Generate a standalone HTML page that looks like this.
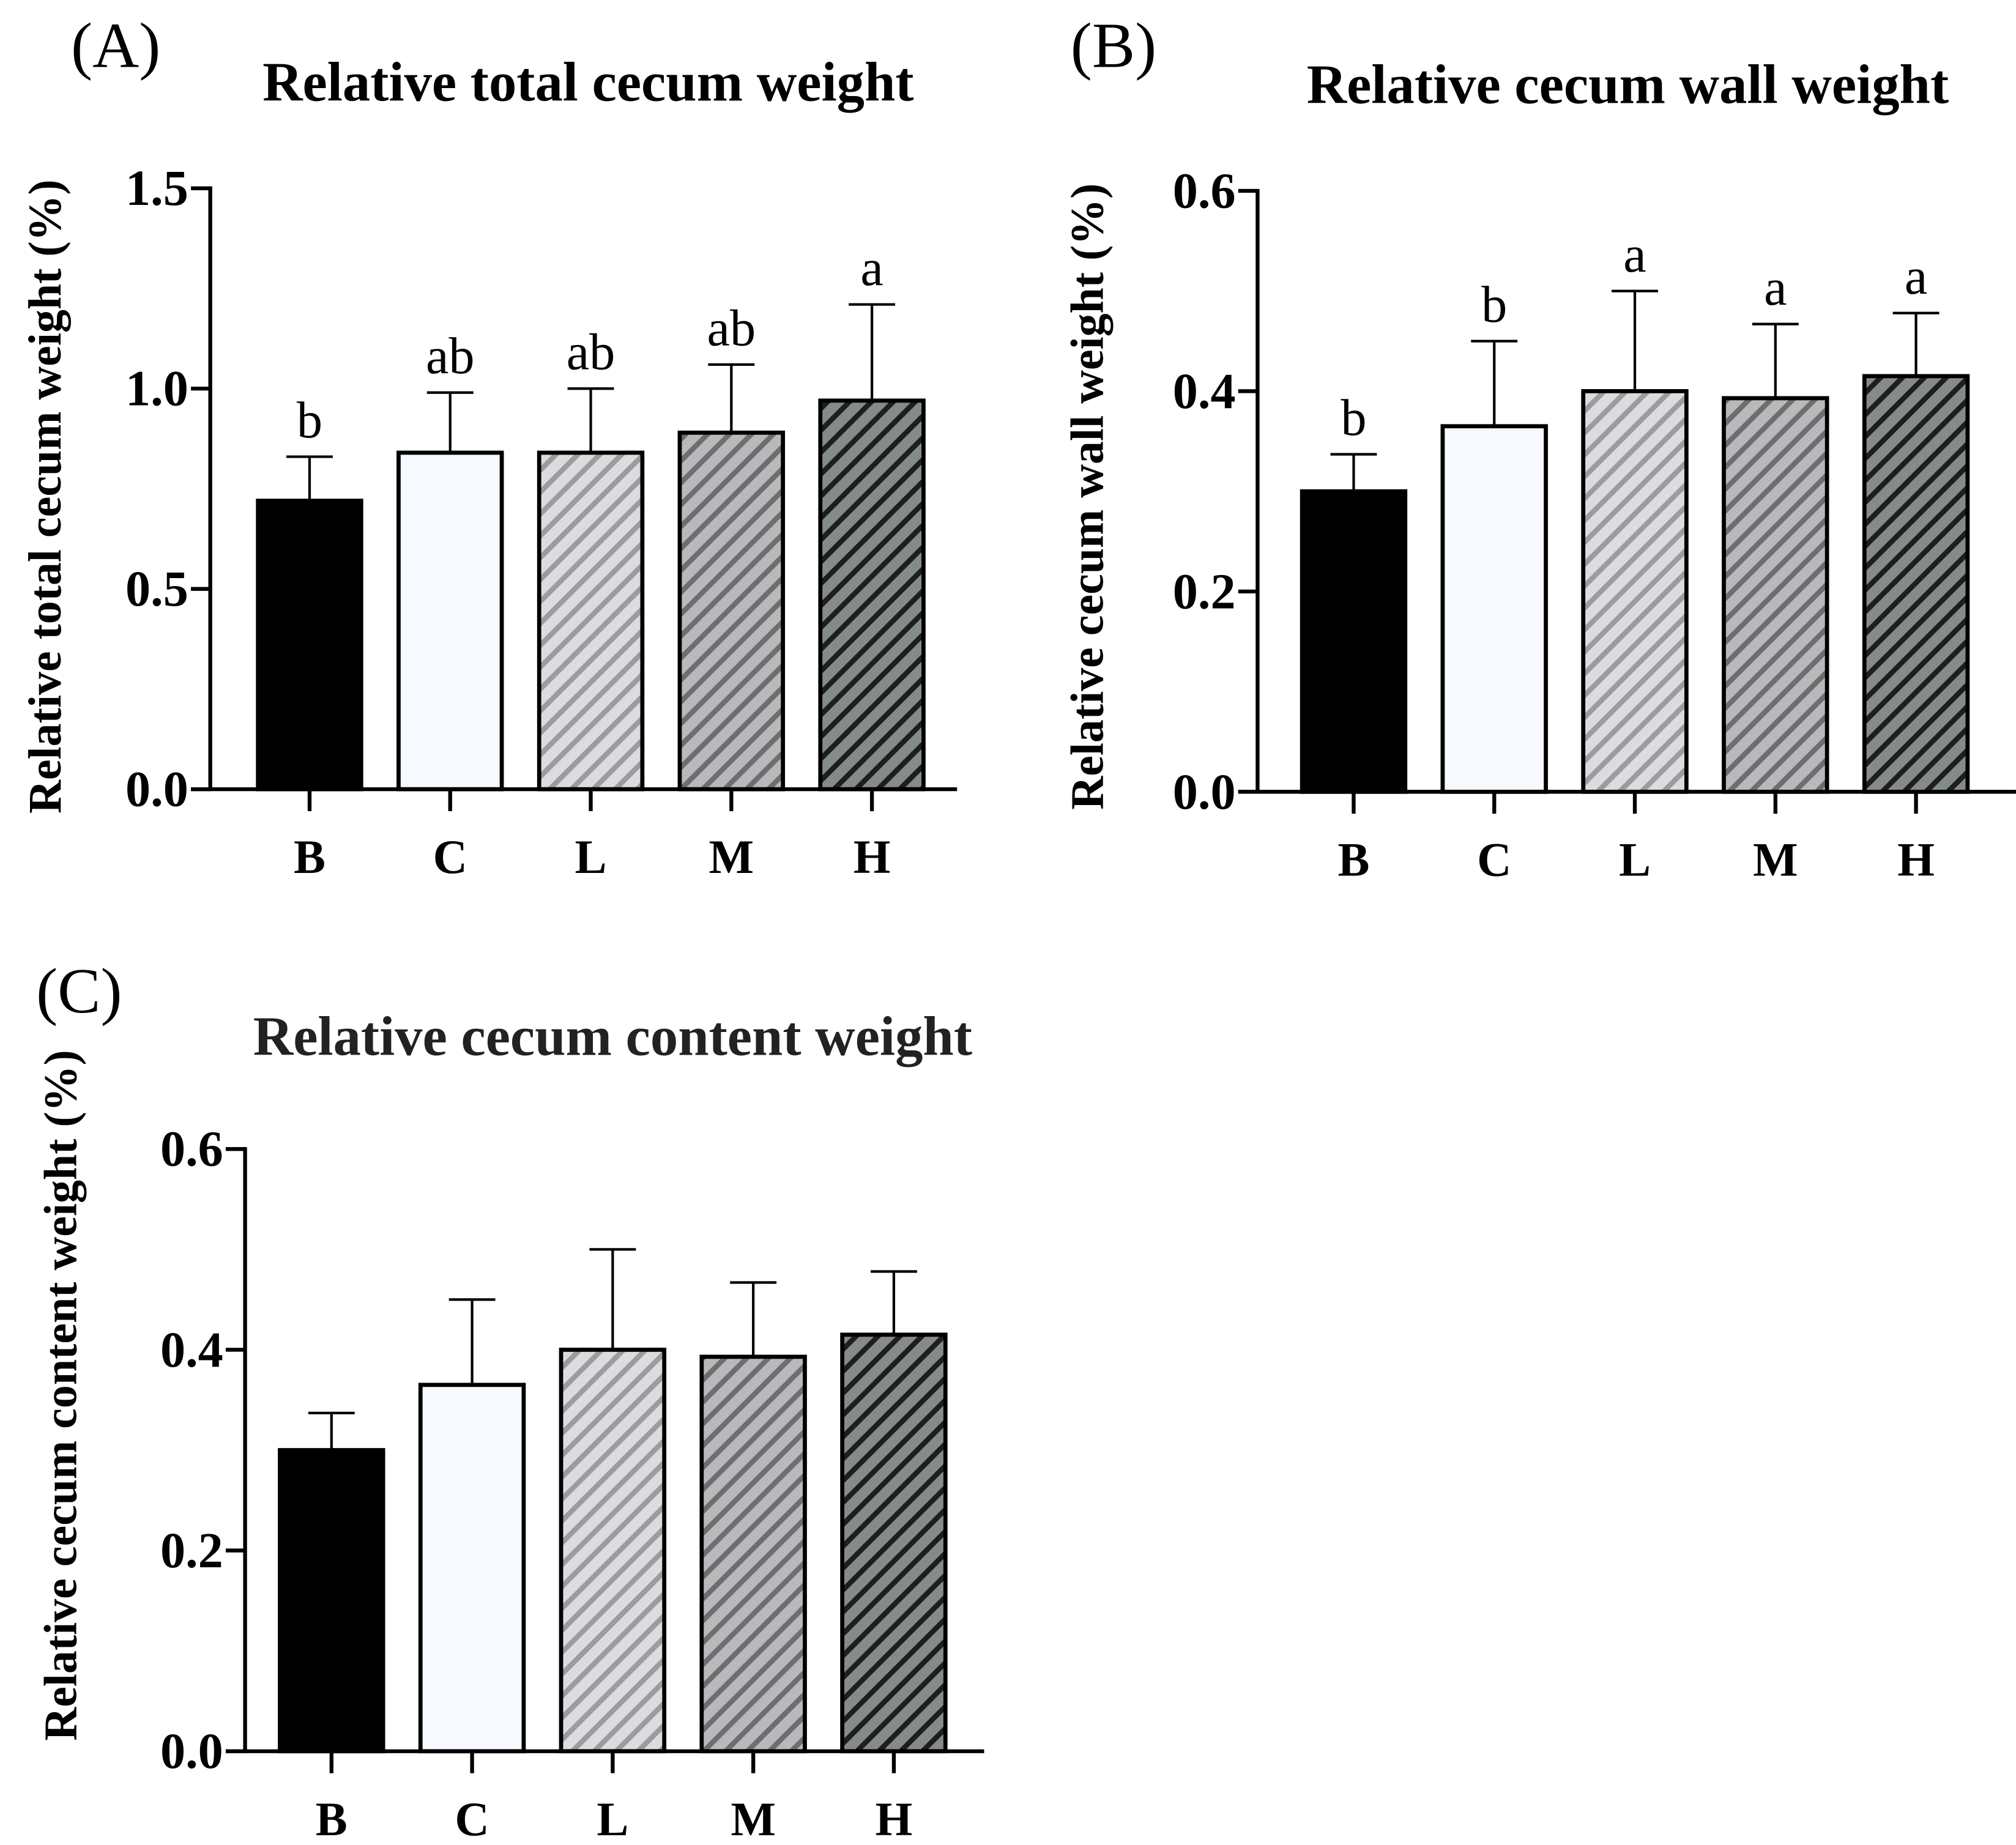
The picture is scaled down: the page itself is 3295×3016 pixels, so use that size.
<!DOCTYPE html>
<html><head><meta charset="utf-8"><style>
html,body{margin:0;padding:0;background:#fff;}
svg{display:block;}
text{font-family:"Liberation Serif",serif;}
</style></head><body>
<svg id="fig" width="3295" height="3016" viewBox="0 0 1563 1430.7" xmlns="http://www.w3.org/2000/svg">
<defs>
<pattern id="pL" patternUnits="userSpaceOnUse" width="12" height="12" patternTransform="rotate(45)"><rect width="12" height="12" fill="#dcdce0"/><rect x="0" width="4" height="12" fill="#9c9c9e"/></pattern>
<pattern id="pM" patternUnits="userSpaceOnUse" width="12" height="12" patternTransform="rotate(45)"><rect width="12" height="12" fill="#b9b9bb"/><rect x="0" width="4" height="12" fill="#6e6e70"/></pattern>
<pattern id="pH" patternUnits="userSpaceOnUse" width="12" height="12" patternTransform="rotate(45)"><rect width="12" height="12" fill="#858b8b"/><rect x="0" width="4" height="12" fill="#1e1e1e"/></pattern>
</defs>
</svg>
<script>
const categories = ["B","C","L","M","H"];
const meansA = [0.72,0.84,0.84,0.89,0.97];
const errTopA = [0.83,0.99,1.0,1.06,1.21];
const lettersA = ["b","ab","ab","ab","a"];
const ticksA = [0,0.5,1.0,1.5];
const tickLabelsA = ["0.0","0.5","1.0","1.5"];
const meansB = [0.30,0.365,0.40,0.393,0.415];
const errTopB = [0.337,0.45,0.50,0.467,0.478];
const lettersB = ["b","b","a","a","a"];
const ticksB = [0,0.2,0.4,0.6];
const tickLabelsB = ["0.0","0.2","0.4","0.6"];
const meansC = [0.30,0.365,0.40,0.393,0.415];
const errTopC = [0.337,0.45,0.50,0.467,0.478];
const lettersC = ["","","","",""];
const ticksC = [0,0.2,0.4,0.6];
const tickLabelsC = ["0.0","0.2","0.4","0.6"];
const fills = ["#000","#f6f9fe","url(#pL)","url(#pM)","url(#pH)"];

const NS="http://www.w3.org/2000/svg";
const svg=document.getElementById('fig');
function mk(tag,attrs,parent,txt){const e=document.createElementNS(NS,tag);for(const k in attrs)e.setAttribute(k,attrs[k]);if(txt!==undefined)e.textContent=txt;(parent||svg).appendChild(e);return e;}

function panel(cfg){
  const g=mk('g',{});
  
  
  const ymax=cfg.ticks[cfg.ticks.length-1];
  const y=v=>cfg.y0-(v/ymax)*(cfg.y0-cfg.ytop);
  const x=i=>cfg.x0+i*cfg.step;
  const pl=mk('text',{x:cfg.plx,y:cfg.ply,'font-size':50},g,cfg.plabel);
  
  
  const t=mk('text',{x:cfg.tx,y:cfg.ty,'font-size':43,'font-weight':'bold','text-anchor':'middle',fill:cfg.tcol||'#000'},g,cfg.title);
  
  
  const yl=mk('text',{x:0,y:0,'font-size':36,'font-weight':'bold','text-anchor':'middle',transform:`translate(${cfg.ylx},${cfg.yly}) rotate(-90)`},g,cfg.ylabel);
  
  
  for(let i=0;i<categories.length;i++){
    const cx=x(i),hw=cfg.bw/2;
    const e=mk('line',{x1:cx,x2:cx,y1:y(cfg.means[i]),y2:y(cfg.err[i]),stroke:'#000','stroke-width':2},g);
    
    
    const c=mk('line',{x1:cx-18,x2:cx+18,y1:y(cfg.err[i]),y2:y(cfg.err[i]),stroke:'#000','stroke-width':2},g);
    
    
    const r=mk('rect',{x:cx-hw,y:y(cfg.means[i]),width:cfg.bw,height:cfg.y0-y(cfg.means[i]),fill:fills[i],stroke:'#000','stroke-width':3.2},g);
    
    
    if(cfg.letters[i]){
      const l=mk('text',{x:cx,y:y(cfg.err[i])-15,'font-size':40,'text-anchor':'middle'},g,cfg.letters[i]);
      
      
    }
    const tk=mk('line',{x1:cx,x2:cx,y1:cfg.y0,y2:cfg.y0+17,stroke:'#000','stroke-width':3},g);
    
    
    const cl=mk('text',{x:cx,y:cfg.y0+65,'font-size':37,'font-weight':'bold','text-anchor':'middle'},g,categories[i]);
    
    
  }
  const ya=mk('line',{x1:cfg.ax,x2:cfg.ax,y1:cfg.ytop-1.5,y2:cfg.y0+1.5,stroke:'#000','stroke-width':3},g);
  
  
  const xa=mk('line',{x1:cfg.ax-15,x2:cfg.xend,y1:cfg.y0,y2:cfg.y0,stroke:'#000','stroke-width':3},g);
  
  
  cfg.ticks.forEach((v,k)=>{
    const tk=mk('line',{x1:cfg.ax-15,x2:cfg.ax,y1:y(v),y2:y(v),stroke:'#000','stroke-width':3},g);
    
    
    const tl=mk('text',{x:cfg.ax-17,y:y(v)+13,'font-size':39,'font-weight':'bold','text-anchor':'end'},g,cfg.tickLabels[k]);
    
    
  });
}
panel({name:'panel-a',plabel:'(A)',plx:55,ply:52,title:'Relative total cecum weight',tx:456,ty:78,
  ylabel:'Relative total cecum weight (%)',ylx:47,yly:385,ax:163,y0:612,ytop:146,x0:240,step:109,bw:80,xend:742,
  means:meansA,err:errTopA,letters:lettersA,ticks:ticksA,tickLabels:tickLabelsA});
panel({name:'panel-b',plabel:'(B)',plx:830,ply:52,title:'Relative cecum wall weight',tx:1262,ty:80,
  ylabel:'Relative cecum wall weight (%)',ylx:855,yly:385,ax:975,y0:614,ytop:148,x0:1049.5,step:109,bw:80,xend:1563,
  means:meansB,err:errTopB,letters:lettersB,ticks:ticksB,tickLabels:tickLabelsB});
panel({name:'panel-c',plabel:'(C)',plx:28,ply:785,title:'Relative cecum content weight',tx:475,ty:818,tcol:'#222',
  ylabel:'Relative cecum content weight (%)',ylx:59,yly:1082,ax:190,y0:1358,ytop:891,x0:257,step:109,bw:80,xend:763,
  means:meansC,err:errTopC,letters:lettersC,ticks:ticksC,tickLabels:tickLabelsC});
</script>
</body></html>
